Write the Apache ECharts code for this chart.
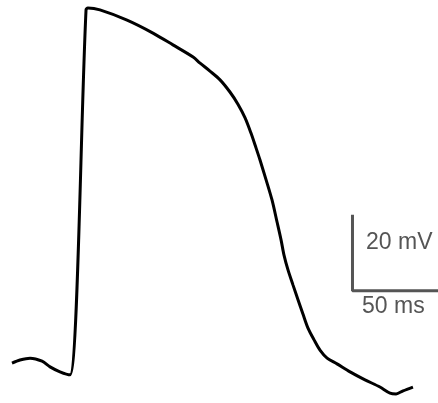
<!DOCTYPE html>
<html>
<head>
<meta charset="utf-8">
<script src="https://cdn.jsdelivr.net/npm/echarts@6/dist/echarts.min.js"></script>
<style>
  html, body { margin: 0; padding: 0; background: #fff; }
  #chart { width: 438px; height: 403px; }
</style>
</head>
<body>
<div id="chart"></div>
<script>
// Action potential trace: time (ms) and membrane potential (mV)
const timeMs = [6.9, 11.5, 17.3, 24.2, 28.8, 34.5, 40.3, 49.5, 50.6, 57.5, 73.1, 88.0, 99.5, 111.1,
  115.1, 120.8, 126.6, 132.3, 136.9, 141.0, 144.4, 147.3, 149.6, 153.1, 156.5, 159.4, 161.7,
  163.4, 165.7, 168.6, 171.5, 174.3, 177.2, 180.7, 184.1, 188.2, 193.9, 201.4, 210.0, 218.6,
  224.4, 227.9, 231.9, 237.6];
const voltageMv = [-75.5, -74.7, -74.2, -75.0, -76.5, -77.8, -78.6, 17.4, 17.9, 17.4, 14.7, 11.3, 8.2, 5.0,
  3.4, 1.3, -1.0, -4.2, -7.4, -11.0, -15.0, -18.9, -22.1, -27.3, -32.6, -38.4, -43.1,
  -47.1, -51.0, -55.0, -58.9, -62.6, -66.3, -69.4, -72.1, -74.2, -75.7, -77.8, -79.9, -81.8,
  -83.4, -83.6, -82.8, -81.8];

// Scale bar: 20 mV vertical, 50 ms horizontal
const scaleOriginMs = 202.8;
const scaleOriginMv = -56.5;
const scaleTimeMs = 50;
const scaleVoltMv = 20;
const scaleLabels = ['20 mV', '50 ms'];

const trace = timeMs.map((t, i) => [t, voltageMv[i]]);

const chart = echarts.init(document.getElementById('chart'), null, { renderer: 'canvas' });
chart.setOption({
  animation: false,
  backgroundColor: '#ffffff',
  grid: { left: 0, right: 0, top: 0, bottom: 0 },
  xAxis: { type: 'value', min: 0, max: 252, show: false },
  yAxis: { type: 'value', min: -86, max: 20, show: false },
  series: [
    {
      type: 'line',
      data: trace,
      showSymbol: false,
      smooth: 0.3,
      lineStyle: { color: '#000', width: 3 }
    },
    {
      type: 'line',
      data: [
        [scaleOriginMs, scaleOriginMv + scaleVoltMv],
        [scaleOriginMs, scaleOriginMv],
        [scaleOriginMs + scaleTimeMs, scaleOriginMv]
      ],
      showSymbol: false,
      lineStyle: { color: '#555', width: 3 }
    }
  ],
  graphic: [
    {
      type: 'text', x: 366, y: 243,
      style: { text: scaleLabels[0], fill: '#555', verticalAlign: 'middle',
        font: '23px "Liberation Sans", Arial, sans-serif' }
    },
    {
      type: 'text', x: 362, y: 307,
      style: { text: scaleLabels[1], fill: '#555', verticalAlign: 'middle',
        font: '23px "Liberation Sans", Arial, sans-serif' }
    }
  ]
});
</script>
</body>
</html>
